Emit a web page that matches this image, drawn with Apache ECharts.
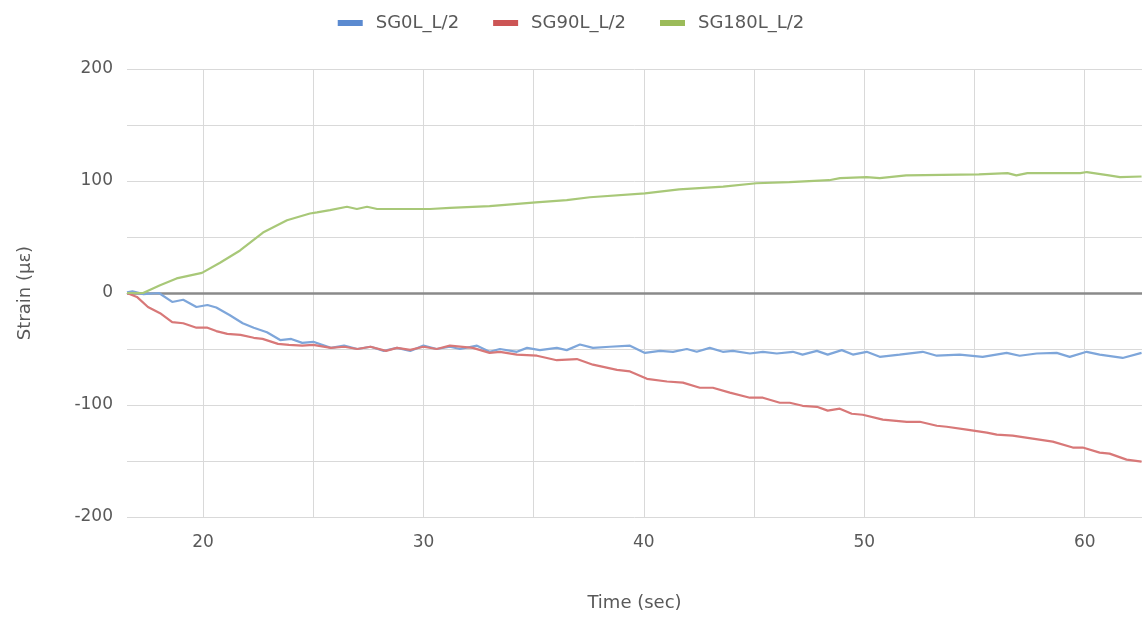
<!DOCTYPE html>
<html>
<head>
<meta charset="utf-8">
<script src="https://cdn.jsdelivr.net/npm/echarts@6/dist/echarts.min.js"></script>
<style>html,body{margin:0;padding:0;background:#fff}#c{width:1142px;height:617px}</style>
</head>
<body>
<div id="c"></div>
<script>
var seriesNames = ['SG0L_L/2', 'SG90L_L/2', 'SG180L_L/2'];
var xGridTicks = [20, 25, 30, 35, 40, 45, 50, 55, 60];
var xLabelTicks = [20, 30, 40, 50, 60];

var sg0Time = [16.55,16.8,17.3,18.0,18.6,19.1,19.7,20.2,20.6,21.2,21.8,22.3,22.9,23.5,24.0,24.5,25.0,25.8,26.4,27.0,27.6,28.2,28.8,29.4,30.0,30.6,31.2,31.66,32.43,33.0,33.47,34.24,34.7,35.28,36.05,36.5,37.1,37.69,38.46,39.37,40.05,40.73,41.32,41.95,42.4,42.99,43.58,44.04,44.81,45.4,46.03,46.76,47.2,47.85,48.34,48.98,49.48,50.11,50.7,51.6,52.65,53.29,54.33,55.37,56.46,57.05,57.82,58.73,59.32,60.09,60.68,61.72,62.58];
var sg0Vals = [0.5,1.5,-1,0,-8,-6,-12.5,-10.7,-13,-19.6,-27,-31,-35,-42,-41,-44.5,-43.6,-49,-47,-50,-48,-51.7,-49,-51.7,-47,-50,-48,-50,-47,-52.5,-50,-52.5,-49,-51,-49,-51,-46,-49,-48,-47,-53.5,-51.7,-52.5,-50,-52.5,-49,-52.5,-51.7,-54,-52.5,-54,-52.5,-55,-51.7,-55,-51,-55,-52.5,-57,-55,-52.5,-56,-55,-57,-53.5,-56,-54,-53.5,-57,-52.5,-55,-58,-53.5];

var sg90Time = [16.55,17.0,17.5,18.05,18.6,19.1,19.7,20.2,20.6,21.1,21.7,22.3,22.7,23.4,23.9,24.5,25.0,25.8,26.4,27.0,27.6,28.3,28.8,29.4,30.0,30.6,31.2,32.24,33.0,33.47,34.24,35.15,36.05,36.96,37.69,38.78,39.37,40.14,41.05,41.77,42.54,43.13,43.9,44.81,45.4,46.17,46.62,47.2,47.85,48.34,48.89,49.43,49.93,50.84,51.93,52.52,53.29,53.74,54.65,55.56,56.01,56.73,57.64,58.55,59.46,59.91,60.68,61.13,61.9,62.58];
var sg90Vals = [0,-3.5,-12.5,-18,-26,-27,-31,-31,-34,-36.5,-37.4,-40,-41,-45.4,-46.3,-47,-46.3,-49,-48,-50,-48,-51.7,-49,-50.8,-48,-50,-47,-49,-53.5,-52.5,-55,-56,-60,-59,-64,-68.6,-70,-76.6,-79,-80,-84.6,-84.6,-89,-93.5,-93.5,-98,-98,-100.7,-101.6,-105,-103.3,-107.8,-108.7,-113,-115,-115,-118.5,-119.4,-122,-124.7,-126.5,-127.4,-130,-132.7,-138,-138,-142.5,-143.4,-148.8,-150.5];

var sg180Time = [16.55,17.28,18.05,18.8,19.95,20.77,21.68,22.72,23.81,24.85,25.17,25.76,26.53,26.98,27.44,27.9,29.98,30.3,31.2,33.0,35.1,36.5,37.55,40.05,41.6,43.6,45.1,46.6,48.4,48.9,50.1,50.7,51.9,55.2,56.5,56.9,57.4,59.8,60.1,61.1,61.6,62.58];
var sg180Vals = [0,0,7,13,18,27,38,54,65,71,72,74,77,75,77,75,75,75,76,77.5,81,83,85.5,89,92.6,95,98,99,100.7,102.5,103.5,102.5,105,106,107,105,107,107,108,105,103.5,104];

function pairs(t, v) { return t.map(function (x, i) { return [x, v[i]]; }); }

var txt = '#595959';
var font = 'DejaVu Sans';
var chart = echarts.init(document.getElementById('c'), null, { renderer: 'canvas' });
chart.setOption({
  animation: false,
  backgroundColor: '#ffffff',
  color: ['#6f9bd6', '#d46a6a', '#9fc36b'],
  textStyle: { fontFamily: font, color: txt },
  legend: {
    top: 9, left: 'center',
    icon: 'rect', itemWidth: 25, itemHeight: 6, itemGap: 34,
    textStyle: { fontSize: 18, color: txt, fontFamily: font, padding: [0, 0, 0, 8] },
    data: seriesNames
  },
  grid: { left: 127, right: 0, top: 69, bottom: 99, containLabel: false },
  xAxis: {
    type: 'value', min: 16.55, max: 62.6,
    name: 'Time (sec)', nameLocation: 'middle', nameGap: 77,
    nameTextStyle: { fontSize: 18, color: txt, fontFamily: font },
    axisLine: { show: true, lineStyle: { color: '#d9d9d9', width: 1 } },
    axisTick: { show: false, customValues: xGridTicks },
    axisLabel: { customValues: xLabelTicks, fontSize: 17, color: txt, margin: 17, fontFamily: font },
    splitLine: { show: true, lineStyle: { color: '#d9d9d9', width: 1 } }
  },
  yAxis: {
    type: 'value', min: -200, max: 200, interval: 50,
    name: 'Strain (µε)', nameLocation: 'middle', nameGap: 93,
    nameTextStyle: { fontSize: 18, color: txt, fontFamily: font },
    axisLine: { show: false }, axisTick: { show: false },
    axisLabel: { fontSize: 17, color: txt, margin: 14, fontFamily: font,
      formatter: function (v) { return (v % 100 === 0) ? String(v) : ''; } },
    splitLine: { show: true, lineStyle: { color: '#d9d9d9', width: 1 } }
  },
  series: [
    { name: seriesNames[0], type: 'line', showSymbol: false, symbol: 'none', data: pairs(sg0Time, sg0Vals),
      lineStyle: { width: 2.2, color: '#7ea6da' }, itemStyle: { color: '#5b8ad0' }, z: 3,
      markLine: { silent: true, symbol: 'none', label: { show: false },
        lineStyle: { color: '#8a8a8a', width: 2.5, type: 'solid' }, data: [{ yAxis: 0 }], z: 1 } },
    { name: seriesNames[1], type: 'line', showSymbol: false, symbol: 'none', data: pairs(sg90Time, sg90Vals),
      lineStyle: { width: 2.2, color: '#d87878' }, itemStyle: { color: '#cc5555' }, z: 3 },
    { name: seriesNames[2], type: 'line', showSymbol: false, symbol: 'none', data: pairs(sg180Time, sg180Vals),
      lineStyle: { width: 2.2, color: '#a8c878' }, itemStyle: { color: '#9bbb59' }, z: 3 }
  ]
});
</script>
</body>
</html>
